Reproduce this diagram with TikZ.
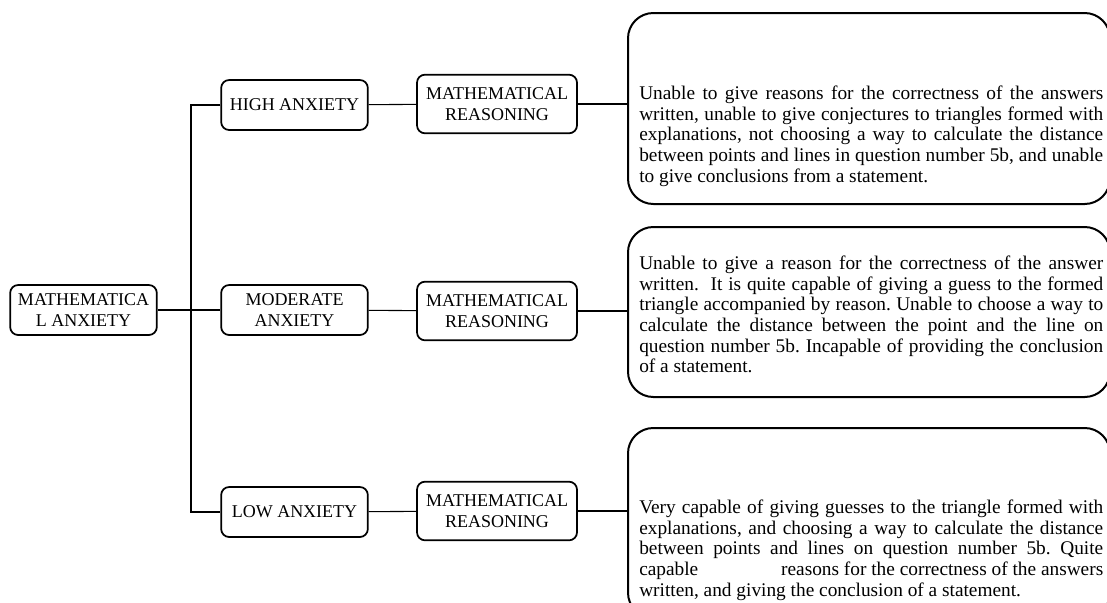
\documentclass[tikz,border=0pt]{standalone}
\usepackage{fontspec}
\setmainfont{Liberation Serif}
\usetikzlibrary{positioning}
\frenchspacing

\begin{document}
\begin{tikzpicture}[x=0.75pt, y=-0.75pt,
    tag/.style={draw, line width=1.3pt, rounded corners=6pt, align=center, inner sep=0pt,
                font=\fontsize{13.5}{15.5}\selectfont},
    desc/.style={draw, line width=1.5pt, rounded corners=19pt, inner sep=0pt,
                 minimum width=361.5pt},
    desctext/.style={anchor=north west, inner sep=0pt, text width=348pt, align=justify,
                     font=\fontsize{14.5}{15.4}\selectfont},
    link/.style={line width=0.8pt}]
        \useasboundingbox (0,0) rectangle (1107,603);
        \clip (0,0) rectangle (1107,603);

        % root and the three levels
        \node[tag, minimum width=110pt, minimum height=37.5pt] (root) at (83.5,310) {MATHEMATICA\\L ANXIETY};
        \node[tag, minimum width=110pt, minimum height=37.5pt] (high) at (294.5,105) {HIGH ANXIETY};
        \node[tag, minimum width=110pt, minimum height=37.5pt] (moderate) at (294.5,310) {MODERATE\\ANXIETY};
        \node[tag, minimum width=110pt, minimum height=37.5pt] (low) at (294.5,512) {LOW ANXIETY};

        % reasoning boxes
        \node[tag, minimum width=120pt, minimum height=44pt] (hreason) at (497,104) {MATHEMATICAL\\REASONING};
        \node[tag, minimum width=120pt, minimum height=44pt] (mreason) at (497,311) {MATHEMATICAL\\REASONING};
        \node[tag, minimum width=120pt, minimum height=44pt] (lreason) at (497,511) {MATHEMATICAL\\REASONING};

        % description boxes (cut off at the right and bottom)
        \node[desc, minimum height=143.25pt] (hdesc) at (869,108.5) {};
        \node[desc, minimum height=127.5pt] (mdesc) at (869,312) {};
        \node[desc, minimum height=142.5pt] (ldesc) at (869,523) {};

        \node[desctext] (htext) at (639,86) {Unable to give reasons for the correctness of the answers\linebreak
            written, unable to give conjectures to triangles formed with\linebreak
            explanations, not choosing a way to calculate the distance\linebreak
            between points and lines in question number 5b, and unable\linebreak
            to give conclusions from a statement.};
        \node[desctext] (mtext) at (639,256) {Unable to give a reason for the correctness of the answer\linebreak
            written.\ \ It is quite capable of giving a guess to the formed\linebreak
            triangle accompanied by reason. Unable to choose a way to\linebreak
            calculate the distance between the point and the line on\linebreak
            question number 5b. Incapable of providing the conclusion\linebreak
            of a statement.};
        \node[desctext] (ltext) at (639,500) {Very capable of giving guesses to the triangle formed with\linebreak
            explanations, and choosing a way to calculate the distance\linebreak
            between points and lines on question number 5b. Quite\linebreak
            capable \hfill reasons for the correctness of the answers\linebreak
            written, and giving the conclusion of a statement.};

        % connectors
        \coordinate (fork) at (191,310);
        \draw[link] (root) -- (moderate);
        \draw[link] (high.west) -| (fork) |- (low.west);
        \draw[link] (high) -- (hreason);
        \draw[link] (moderate) -- (mreason);
        \draw[link] (low) -- (lreason);
        \draw[link] (hreason.east) -- (hreason.east -| hdesc.west);
        \draw[link] (mreason.east) -- (mreason.east -| mdesc.west);
        \draw[link] (lreason.east) -- (lreason.east -| ldesc.west);
\end{tikzpicture}
\end{document}
